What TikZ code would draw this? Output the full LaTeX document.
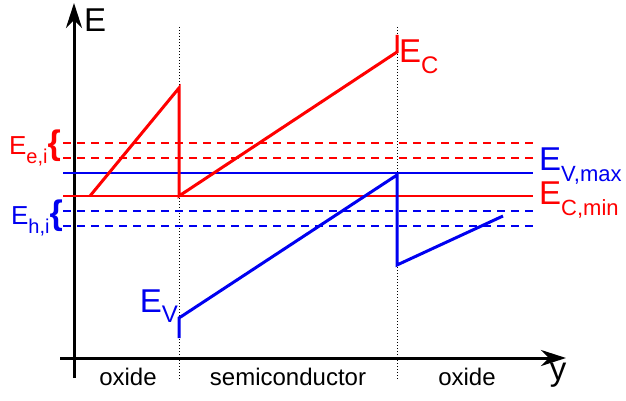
\documentclass[tikz,border=0pt]{standalone}
\usepackage{fontspec}
\setmainfont{Liberation Sans}
\usetikzlibrary{arrows.meta}

\definecolor{cband}{RGB}{255,0,0}
\definecolor{vband}{RGB}{0,0,240}

% energy label with a lowered subscript
\newcommand{\enl}[3]{\fontsize{#1}{#1}\selectfont E\raisebox{-0.32em}{\fontsize{#2}{#2}\selectfont #3}}

\tikzset{
  axis/.style={line width=3pt, -{Stealth[length=25pt,width=16pt,inset=8pt]}},
  border/.style={dotted, line width=1pt},
  cline/.style={cband, line width=3pt, line join=miter},
  vline/.style={vband, line width=3pt, line join=miter},
  level/.style={line width=1.2pt},
  region/.style={font=\fontsize{24}{24}\selectfont, inner sep=0pt}
}

\begin{document}
\begin{tikzpicture}[x=1pt, y=-1pt]
  \useasboundingbox (0,0) rectangle (626,401);

  % axes
  \coordinate (o1) at (74,378);
  \coordinate (etop) at (74,3);
  \coordinate (o2) at (60,358);
  \coordinate (yend) at (566,358);
  \draw[axis] (o1) -- (etop);
  \draw[axis] (o2) -- (yend);
  \node[anchor=west, inner sep=0pt, font=\fontsize{33}{33}\selectfont] (elab) at (84,20) {E};
  \node[anchor=center, inner sep=0pt, font=\fontsize{33}{33}\selectfont] (ylab) at (558,375) {y};

  % region borders
  \foreach \x/\nm in {179/a, 397/b} {
    \coordinate (\nm top) at (\x,27);
    \coordinate (\nm bot) at (\x,379);
    \draw[border] (\nm top) -- (\nm bot);
  }
  \node[region] (ox1) at (128,377) {oxide};
  \node[region] (semi) at (288,377) {semiconductor};
  \node[region] (ox2) at (467,377) {oxide};

  % trap levels (dashed)
  \foreach \y/\c in {143/cband, 158/cband, 211/vband, 226/vband} {
    \coordinate (l\y) at (63,\y);
    \coordinate (r\y) at (533,\y);
    \draw[\c, level, dash pattern=on 8pt off 6pt] (l\y) -- (r\y);
  }

  % E_V,max and E_C,min
  \coordinate (vmaxl) at (63,173);
  \coordinate (vmaxr) at (533,173);
  \coordinate (cminl) at (63,196);
  \coordinate (cminr) at (533,196);
  \draw[vband, level] (vmaxl) -- (vmaxr);
  \draw[cband, level] (cminl) -- (cminr);

  % conduction band
  \coordinate (c1) at (90,196);
  \coordinate (c2) at (179,88);
  \coordinate (c3) at (179,196);
  \coordinate (c4) at (397,52);
  \coordinate (c5) at (397,35);
  \draw[cline] (c1) -- (c2) -- (c3) -- (c4) -- (c5);

  % valence band
  \coordinate (v1) at (179,338);
  \coordinate (v2) at (179,318);
  \coordinate (v3) at (397,175);
  \coordinate (v4) at (397,265);
  \coordinate (v5) at (503,216);
  \draw[vline] (v1) -- (v2) -- (v3) -- (v4) -- (v5);

  % labels
  \node[cband, anchor=west, inner sep=0pt] (eclab) at (399,57) {\enl{33}{24}{C}};
  \node[vband, anchor=east, inner sep=0pt] (evlab) at (178,306) {\enl{33}{24}{V}};
  \node[vband, anchor=west, inner sep=0pt] (evmax) at (539,166) {\enl{33}{22}{V,max}};
  \node[cband, anchor=west, inner sep=0pt] (ecmin) at (539,200) {\enl{33}{22}{C,min}};
  \node[cband, anchor=east, inner sep=0pt] (eei) at (61,148)
    {\enl{26}{20}{e,i}\fontsize{34}{34}\selectfont\bfseries\{};
  \node[vband, anchor=east, inner sep=0pt] (ehi) at (63,218)
    {\enl{26}{20}{h,i}\fontsize{34}{34}\selectfont\bfseries\{};
\end{tikzpicture}
\end{document}
